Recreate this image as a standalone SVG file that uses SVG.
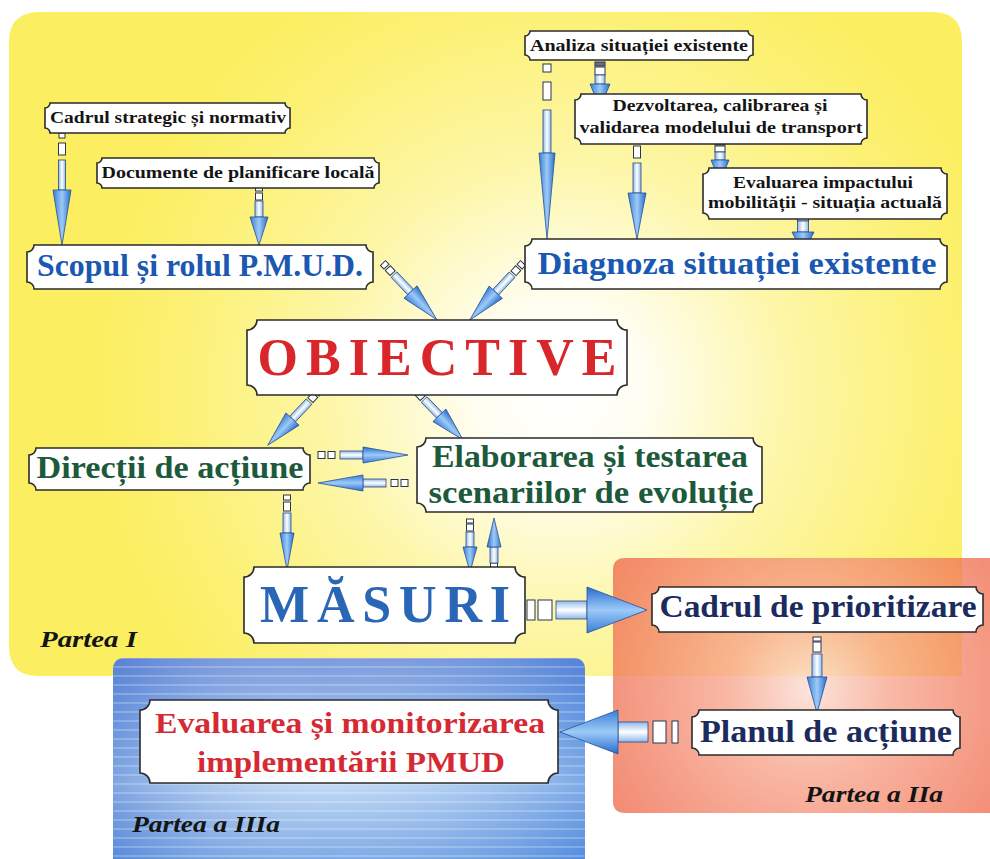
<svg xmlns="http://www.w3.org/2000/svg" width="990" height="859" viewBox="0 0 990 859">
<defs>
<radialGradient id="gYellow" gradientUnits="userSpaceOnUse" cx="560" cy="390" r="470">
<stop offset="0" stop-color="#ffffff"/>
<stop offset="0.18" stop-color="#fffef2"/>
<stop offset="0.5" stop-color="#fdf6a6"/>
<stop offset="0.8" stop-color="#fcf176"/>
<stop offset="1" stop-color="#fbee60"/>
</radialGradient>
<radialGradient id="gOrange" gradientUnits="userSpaceOnUse" cx="810" cy="690" r="230">
<stop offset="0" stop-color="#fbe0d6" stop-opacity="0.85"/>
<stop offset="0.35" stop-color="#f7a78f" stop-opacity="0.8"/>
<stop offset="1" stop-color="#ef6a4c" stop-opacity="0.78"/>
</radialGradient>
<linearGradient id="gBlue" x1="0" y1="0" x2="0" y2="1">
<stop offset="0" stop-color="#6688d6"/>
<stop offset="0.3" stop-color="#86b0e8"/>
<stop offset="0.6" stop-color="#b5d2f2"/>
<stop offset="1" stop-color="#5d93de"/>
</linearGradient>
<linearGradient id="gBlueH" x1="0" y1="0" x2="1" y2="0">
<stop offset="0" stop-color="#4a78d0" stop-opacity="0.5"/>
<stop offset="0.45" stop-color="#ffffff" stop-opacity="0.15"/>
<stop offset="1" stop-color="#3c7ad8" stop-opacity="0.45"/>
</linearGradient>
<pattern id="streak" patternUnits="userSpaceOnUse" width="990" height="9">
<rect x="0" y="0" width="990" height="2" fill="#ffffff" opacity="0.22"/>
</pattern>
<linearGradient id="gHead" x1="0" y1="0" x2="0" y2="1">
<stop offset="0" stop-color="#2a6ccc"/>
<stop offset="0.5" stop-color="#9ccaf8"/>
<stop offset="1" stop-color="#3a7fd6"/>
</linearGradient>
<linearGradient id="gShaft" x1="0" y1="0" x2="0" y2="1">
<stop offset="0" stop-color="#8fb8ea"/>
<stop offset="0.5" stop-color="#ffffff"/>
<stop offset="1" stop-color="#8fb8ea"/>
</linearGradient>
<style>
.node{fill:#ffffff;stroke:#2b2b2b;stroke-width:1.6}
.t{font-family:"Liberation Serif","Times New Roman",serif;font-weight:bold;text-anchor:middle}
.s{font-size:16.5px;fill:#141414}
.big{font-size:32px}
.blue{fill:#1a58b2}
.green{fill:#1c5a3b}
.navy{fill:#1c2b5e}
.red{fill:#d52a34}
.lab{font-family:"Liberation Serif","Times New Roman",serif;font-weight:bold;font-style:italic;font-size:23px;fill:#141414}
.sq{fill:#ffffff;stroke:#2a3550;stroke-width:1}
.sqd{fill:#667080;stroke:#2a3550;stroke-width:1}
.sh{fill:url(#gShaft);stroke:#2a4a80;stroke-width:0.8}
.hd{fill:url(#gHead);stroke:#23509a;stroke-width:0.8}
</style>
</defs>

<g id="backgrounds">
<path d="M40,12 H933 Q962,12 962,42 V676 H38 Q9,676 9,646 V42 Q9,12 40,12 Z" fill="url(#gYellow)"/>
<path d="M625,558 H1000 V813 H625 Q613,813 613,801 V570 Q613,558 625,558 Z" fill="url(#gOrange)"/>
<path d="M125,658 H573 Q585,658 585,670 V870 H113 V670 Q113,658 125,658 Z" fill="url(#gBlue)"/>
<path d="M125,658 H573 Q585,658 585,670 V870 H113 V670 Q113,658 125,658 Z" fill="url(#gBlueH)"/>
<path d="M125,658 H573 Q585,658 585,670 V870 H113 V670 Q113,658 125,658 Z" fill="url(#streak)"/>
</g>

<g id="labels">
<text class="lab" x="40" y="647" textLength="97" lengthAdjust="spacingAndGlyphs">Partea I</text>
<text class="lab" x="805" y="802" textLength="138" lengthAdjust="spacingAndGlyphs">Partea a IIa</text>
<text class="lab" x="132" y="832" textLength="148" lengthAdjust="spacingAndGlyphs">Partea a IIIa</text>
</g>

<g id="connectors">
<g transform="translate(62,133) rotate(90)">
<rect class="sq" x="0" y="-3" width="5" height="6"/><rect class="sq" x="10" y="-3.5" width="12" height="7"/><rect class="sh" x="27" y="-3.5" width="30" height="7"/><polygon class="hd" points="57,-9 112,0 57,9"/>
</g>
<g transform="translate(259,187) rotate(90)">
<rect class="sq" x="0" y="-3.5" width="4" height="7"/><rect class="sq" x="6" y="-3.5" width="7" height="7"/><rect class="sh" x="14" y="-4" width="16" height="8"/><polygon class="hd" points="30,-9 58,0 30,9"/>
</g>
<g transform="translate(383,263) rotate(46.5)">
<rect class="sq" x="0" y="-3.5" width="5" height="7"/><rect class="sq" x="7" y="-3.5" width="7" height="7"/><rect class="sh" x="16" y="-4" width="24" height="8"/><polygon class="hd" points="40,-9 78,0 40,9"/>
</g>
<g transform="translate(523,263) rotate(133)">
<rect class="sq" x="0" y="-3.5" width="5" height="7"/><rect class="sq" x="7" y="-3.5" width="7" height="7"/><rect class="sh" x="16" y="-4" width="24" height="8"/><polygon class="hd" points="40,-9 78,0 40,9"/>
</g>
<g transform="translate(547,64) rotate(90)">
<rect class="sq" x="0" y="-4" width="8" height="8"/><rect class="sq" x="18" y="-4" width="18" height="8"/><rect class="sh" x="46" y="-4" width="43" height="8"/><polygon class="hd" points="89,-8 175,0 89,8"/>
</g>
<g transform="translate(600,62) rotate(90)">
<rect class="sqd" x="0" y="-5" width="4" height="10"/><rect class="sq" x="5" y="-5" width="8" height="10"/><rect class="sh" x="13" y="-5" width="9" height="10"/><polygon class="hd" points="22,-10 46,0 22,10"/>
</g>
<g transform="translate(637,135) rotate(90)">
<rect class="sq" x="0" y="-3.5" width="4" height="7"/><rect class="sq" x="11" y="-3.5" width="12" height="7"/><rect class="sh" x="28" y="-4" width="30" height="8"/><polygon class="hd" points="58,-9 104,0 58,9"/>
</g>
<g transform="translate(720,140) rotate(90)">
<rect class="sqd" x="0" y="-5" width="5" height="10"/><rect class="sq" x="6" y="-5" width="6" height="10"/><rect class="sh" x="12" y="-5" width="8" height="10"/><polygon class="hd" points="20,-9 42,0 20,9"/>
</g>
<g transform="translate(803,210) rotate(90)">
<rect class="sqd" x="0" y="-5.5" width="4" height="11"/><rect class="sq" x="5" y="-5.5" width="6" height="11"/><rect class="sh" x="11" y="-5.5" width="11" height="11"/><polygon class="hd" points="22,-11 44,0 22,11"/>
</g>
<g transform="translate(320,390) rotate(133.4)">
<rect class="sq" x="0" y="-3.5" width="5" height="7"/><rect class="sq" x="7" y="-3.5" width="7" height="7"/><rect class="sh" x="16" y="-4" width="24" height="8"/><polygon class="hd" points="40,-9 76,0 40,9"/>
</g>
<g transform="translate(413,388) rotate(46)">
<rect class="sq" x="0" y="-3.5" width="5" height="7"/><rect class="sq" x="7" y="-3.5" width="7" height="7"/><rect class="sh" x="16" y="-4" width="22" height="8"/><polygon class="hd" points="38,-9 72,0 38,9"/>
</g>
<g transform="translate(318,455)">
<rect class="sq" x="0" y="-3.5" width="7" height="7"/><rect class="sq" x="10" y="-3.5" width="7" height="7"/><rect class="sh" x="22" y="-4" width="23" height="8"/><polygon class="hd" points="45,-8 90,0 45,8"/>
</g>
<g transform="translate(408,483) rotate(180)">
<rect class="sq" x="0" y="-3.5" width="7" height="7"/><rect class="sq" x="10" y="-3.5" width="7" height="7"/><rect class="sh" x="22" y="-4" width="23" height="8"/><polygon class="hd" points="45,-8 90,0 45,8"/>
</g>
<g transform="translate(287,495) rotate(90)">
<rect class="sq" x="0" y="-3.5" width="5" height="7"/><rect class="sq" x="7" y="-3.5" width="9" height="7"/><rect class="sh" x="18" y="-4" width="20" height="8"/><polygon class="hd" points="38,-7 75,0 38,7"/>
</g>
<g transform="translate(470,519) rotate(90)">
<rect class="sq" x="0" y="-3.5" width="4" height="7"/><rect class="sq" x="5" y="-3.5" width="7" height="7"/><rect class="sh" x="13" y="-4" width="15" height="8"/><polygon class="hd" points="28,-7 53,0 28,7"/>
</g>
<g transform="translate(494,573) rotate(-90)">
<rect class="sq" x="0" y="-3.5" width="4" height="7"/><rect class="sq" x="5" y="-3.5" width="5" height="7"/><rect class="sh" x="10" y="-4" width="16" height="8"/><polygon class="hd" points="26,-7 55,0 26,7"/>
</g>
<g transform="translate(527,610)">
<rect class="sq" x="0" y="-10" width="8" height="20"/><rect class="sq" x="11" y="-10" width="14" height="20"/><rect class="sh" x="29" y="-9" width="31" height="18"/><polygon class="hd" points="60,-23 120,0 60,23"/>
</g>
<g transform="translate(817,637) rotate(90)">
<rect class="sq" x="0" y="-4" width="4" height="8"/><rect class="sq" x="5" y="-4" width="10" height="8"/><rect class="sh" x="17" y="-5" width="23" height="10"/><polygon class="hd" points="40,-10 76,0 40,10"/>
</g>
<g transform="translate(678,732) rotate(180)">
<rect class="sq" x="0" y="-11" width="6" height="22"/><rect class="sq" x="12" y="-11" width="13" height="22"/><rect class="sh" x="30" y="-10" width="30" height="20"/><polygon class="hd" points="60,-22 118,0 60,22"/>
</g>
</g>

<g id="n-cadrul-strategic">
<path class="node" d="M50,103 H285 A5,5 0 0 0 290,108 V128 A5,5 0 0 0 285,133 H50 A5,5 0 0 0 45,128 V108 A5,5 0 0 0 50,103 Z"/>
<text class="t s" x="168" y="123" textLength="236" lengthAdjust="spacingAndGlyphs">Cadrul strategic și normativ</text>
</g>
<g id="n-documente">
<path class="node" d="M102,158 H374 A5,5 0 0 0 379,163 V183 A5,5 0 0 0 374,188 H102 A5,5 0 0 0 97,183 V163 A5,5 0 0 0 102,158 Z"/>
<text class="t s" x="238" y="178" textLength="273" lengthAdjust="spacingAndGlyphs">Documente de planificare locală</text>
</g>
<g id="n-scopul">
<path class="node" d="M34,245 H366 A7,7 0 0 0 373,252 V282 A7,7 0 0 0 366,289 H34 A7,7 0 0 0 27,282 V252 A7,7 0 0 0 34,245 Z"/>
<text class="t big blue" x="200" y="276" textLength="326" lengthAdjust="spacingAndGlyphs">Scopul și rolul P.M.U.D.</text>
</g>
<g id="n-analiza">
<path class="node" d="M530,31 H748 A5,5 0 0 0 753,36 V55 A5,5 0 0 0 748,60 H530 A5,5 0 0 0 525,55 V36 A5,5 0 0 0 530,31 Z"/>
<text class="t s" x="639" y="51" textLength="218" lengthAdjust="spacingAndGlyphs">Analiza situației existente</text>
</g>
<g id="n-dezvoltarea">
<path class="node" d="M581,94 H861 A6,6 0 0 0 867,100 V138 A6,6 0 0 0 861,144 H581 A6,6 0 0 0 575,138 V100 A6,6 0 0 0 581,94 Z"/>
<text class="t s" x="720" y="111" textLength="215" lengthAdjust="spacingAndGlyphs">Dezvoltarea, calibrarea și</text>
<text class="t s" x="721" y="133" textLength="283" lengthAdjust="spacingAndGlyphs">validarea modelului de transport</text>
</g>
<g id="n-evaluarea-impactului">
<path class="node" d="M709,168 H941 A6,6 0 0 0 947,174 V213 A6,6 0 0 0 941,219 H709 A6,6 0 0 0 703,213 V174 A6,6 0 0 0 709,168 Z"/>
<text class="t s" x="823" y="188" textLength="180" lengthAdjust="spacingAndGlyphs">Evaluarea impactului</text>
<text class="t s" x="825" y="208" textLength="234" lengthAdjust="spacingAndGlyphs">mobilității - situația actuală</text>
</g>
<g id="n-diagnoza">
<path class="node" d="M532,239 H940 A7,7 0 0 0 947,246 V282 A7,7 0 0 0 940,289 H532 A7,7 0 0 0 525,282 V246 A7,7 0 0 0 532,239 Z"/>
<text class="t big blue" x="737" y="274" textLength="399" lengthAdjust="spacingAndGlyphs">Diagnoza situației existente</text>
</g>
<g id="n-obiective">
<path class="node" d="M257,320 H617 A10,10 0 0 0 627,330 V385 A10,10 0 0 0 617,395 H257 A10,10 0 0 0 247,385 V330 A10,10 0 0 0 257,320 Z"/>
<text class="t" x="437" y="375" font-size="52" fill="#d9262b" textLength="359" lengthAdjust="spacing">OBIECTIVE</text>
</g>
<g id="n-directii">
<path class="node" d="M36,448 H303 A7,7 0 0 0 310,455 V483 A7,7 0 0 0 303,490 H36 A7,7 0 0 0 29,483 V455 A7,7 0 0 0 36,448 Z"/>
<text class="t green" x="170" y="478" font-size="31" textLength="267" lengthAdjust="spacingAndGlyphs">Direcții de acțiune</text>
</g>
<g id="n-elaborarea">
<path class="node" d="M426,438 H753 A9,9 0 0 0 762,447 V503 A9,9 0 0 0 753,512 H426 A9,9 0 0 0 417,503 V447 A9,9 0 0 0 426,438 Z"/>
<text class="t green" x="590" y="467" font-size="31" textLength="316" lengthAdjust="spacingAndGlyphs">Elaborarea și testarea</text>
<text class="t green" x="591" y="503" font-size="31" textLength="325" lengthAdjust="spacingAndGlyphs">scenariilor de evoluție</text>
</g>
<g id="n-masuri">
<path class="node" d="M254,567 H515 A10,10 0 0 0 525,577 V633 A10,10 0 0 0 515,643 H254 A10,10 0 0 0 244,633 V577 A10,10 0 0 0 254,567 Z"/>
<text class="t" x="385" y="622" font-size="52" fill="#2a66b6" textLength="250" lengthAdjust="spacing">MĂSURI</text>
</g>
<g id="n-cadrul-prioritizare">
<path class="node" d="M659,587 H976 A7,7 0 0 0 983,594 V625 A7,7 0 0 0 976,632 H659 A7,7 0 0 0 652,625 V594 A7,7 0 0 0 659,587 Z"/>
<text class="t navy" x="818" y="617" font-size="31" textLength="317" lengthAdjust="spacingAndGlyphs">Cadrul de prioritizare</text>
</g>
<g id="n-planul">
<path class="node" d="M699,710 H953 A7,7 0 0 0 960,717 V748 A7,7 0 0 0 953,755 H699 A7,7 0 0 0 692,748 V717 A7,7 0 0 0 699,710 Z"/>
<text class="t navy" x="826" y="742" font-size="31" textLength="252" lengthAdjust="spacingAndGlyphs">Planul de acțiune</text>
</g>
<g id="n-evaluarea-monitorizarea">
<path class="node" d="M150,700 H548 A10,10 0 0 0 558,710 V773 A10,10 0 0 0 548,783 H150 A10,10 0 0 0 140,773 V710 A10,10 0 0 0 150,700 Z"/>
<text class="t red" x="350" y="733" font-size="29" textLength="390" lengthAdjust="spacingAndGlyphs">Evaluarea și monitorizarea</text>
<text class="t red" x="351" y="772" font-size="29" textLength="308" lengthAdjust="spacingAndGlyphs">implementării PMUD</text>
</g>
</svg>
